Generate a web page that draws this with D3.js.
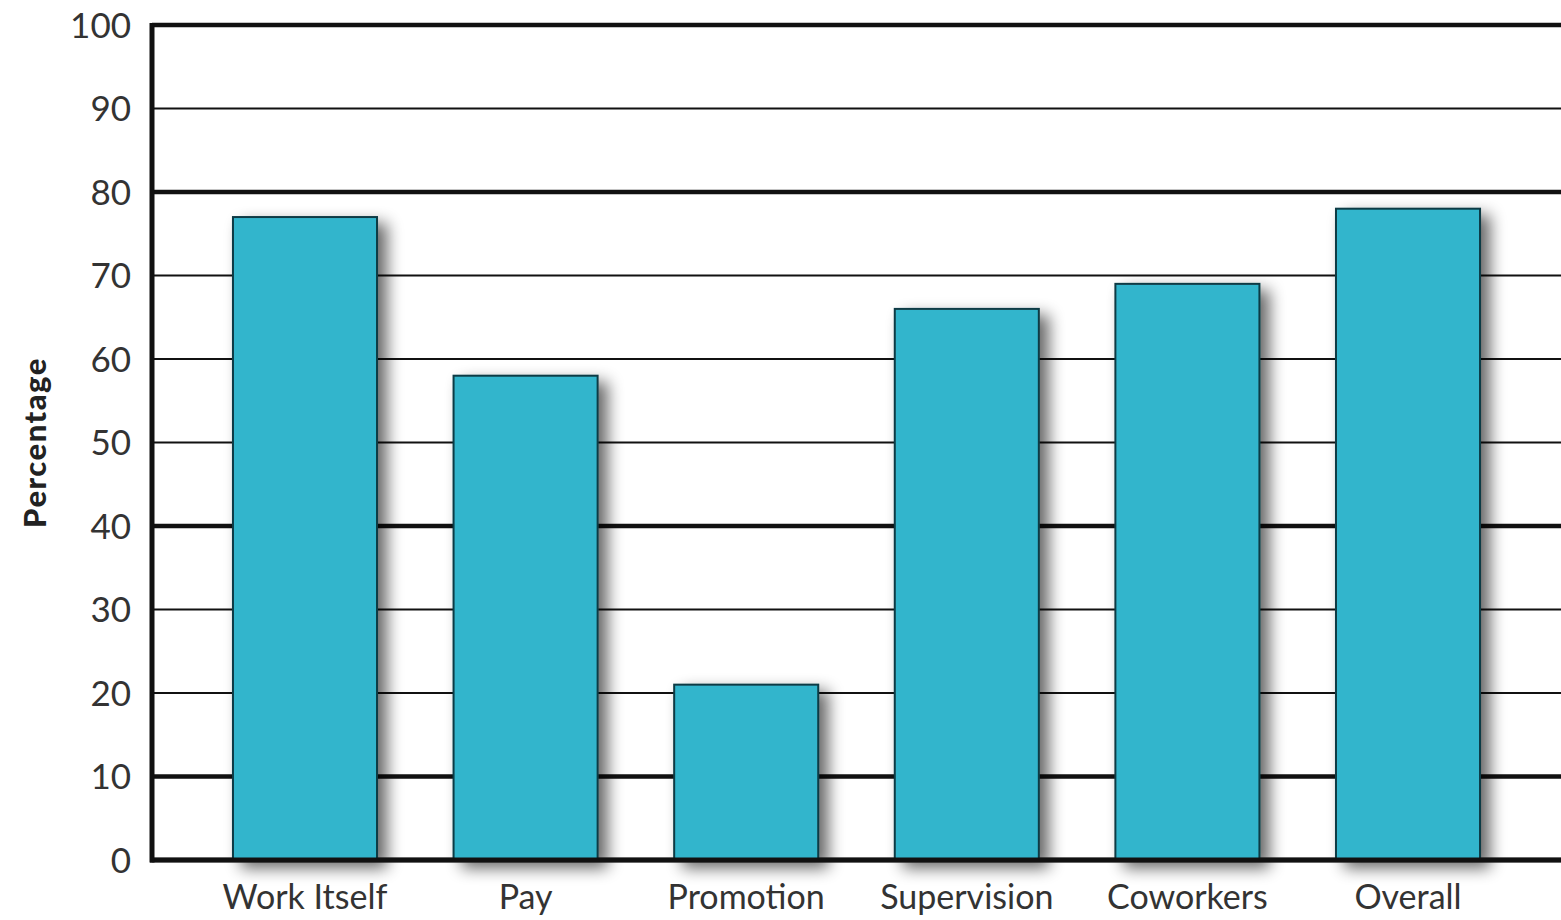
<!DOCTYPE html>
<html>
<head>
<meta charset="utf-8">
<script src="https://cdn.jsdelivr.net/npm/d3@7"></script>
<style>
  html, body { margin: 0; padding: 0; background: #fff; }
  svg { display: block; }
</style>
</head>
<body>
<svg class="chart"></svg>
<script>
'use strict'

// categories and values
const categories = ['Work Itself', 'Pay', 'Promotion', 'Supervision', 'Coworkers', 'Overall']
const values = [77, 58, 21, 66, 69, 78]
const yTicks = [0, 10, 20, 30, 40, 50, 60, 70, 80, 90, 100]
const thickTicks = [0, 10, 40, 80, 100]

const size = { width: 1561, height: 920 }
const margin = { top: 25, right: 0, bottom: 60, left: 152 }

const svg = d3.select('.chart')
  .attr('width', size.width)
  .attr('height', size.height)

// drop shadow for the bars
const defs = svg.append('defs')
const filter = defs.append('filter')
  .attr('id', 'shadow')
  .attr('x', '-20%').attr('y', '-20%')
  .attr('width', '160%').attr('height', '160%')
filter.append('feGaussianBlur').attr('in', 'SourceAlpha').attr('stdDeviation', 8).attr('result', 'blur')
filter.append('feOffset').attr('in', 'blur').attr('dx', 9).attr('dy', 7).attr('result', 'off')
filter.append('feComponentTransfer').attr('in', 'off').attr('result', 'soft')
  .append('feFuncA').attr('type', 'linear').attr('slope', 0.6)
const merge = filter.append('feMerge')
merge.append('feMergeNode').attr('in', 'soft')
merge.append('feMergeNode').attr('in', 'SourceGraphic')

const x = d3.scaleBand()
  .domain(categories)
  .range([margin.left, size.width - margin.right])
  .paddingInner(0.347)
  .paddingOuter(0.367)

const y = d3.scaleLinear()
  .domain([0, 100])
  .range([size.height - margin.bottom, margin.top])

// grid lines
svg.append('g').attr('class', 'grid')
  .selectAll('line')
  .data(yTicks)
  .enter()
  .append('line')
  .attr('x1', margin.left)
  .attr('x2', size.width)
  .attr('y1', d => y(d))
  .attr('y2', d => y(d))
  .attr('stroke', '#111')
  .attr('stroke-width', d => thickTicks.includes(d) ? 4.5 : 2)

// bars
svg.append('g').attr('class', 'bars')
  .selectAll('rect')
  .data(values)
  .enter()
  .append('rect')
  .attr('x', (d, i) => x(categories[i]))
  .attr('y', d => y(d))
  .attr('width', x.bandwidth())
  .attr('height', d => y(0) - y(d))
  .attr('fill', '#33b5cc')
  .attr('stroke', '#0f3a44')
  .attr('stroke-width', 2)
  .attr('filter', 'url(#shadow)')

// baseline drawn on top of bars
svg.append('line')
  .attr('x1', margin.left - 2)
  .attr('x2', size.width)
  .attr('y1', y(0))
  .attr('y2', y(0))
  .attr('stroke', '#111')
  .attr('stroke-width', 5)

// left axis line
svg.append('line')
  .attr('x1', margin.left)
  .attr('x2', margin.left)
  .attr('y1', y(100) - 2)
  .attr('y2', y(0) + 2.5)
  .attr('stroke', '#111')
  .attr('stroke-width', 5)

const font = 'Lato, "Noto Sans", sans-serif'

// y tick labels
svg.append('g').attr('class', 'ylabels')
  .selectAll('text')
  .data(yTicks)
  .enter()
  .append('text')
  .attr('x', 131)
  .attr('y', d => y(d))
  .attr('dy', '0.36em')
  .attr('text-anchor', 'end')
  .attr('font-family', font)
  .attr('font-size', 35)
  .attr('fill', '#333')
  .text(d => d)

// x category labels
svg.append('g').attr('class', 'xlabels')
  .selectAll('text')
  .data(categories)
  .enter()
  .append('text')
  .attr('x', d => x(d) + x.bandwidth() / 2)
  .attr('y', 909)
  .attr('text-anchor', 'middle')
  .attr('font-family', font)
  .attr('font-size', 34)
  .attr('fill', '#333')
  .text(d => d)

// axis title
svg.append('text')
  .attr('transform', 'translate(46,' + y(50) + ') rotate(-90)')
  .attr('text-anchor', 'middle')
  .attr('font-family', font)
  .attr('font-weight', 900)
  .attr('font-size', 31)
  .attr('letter-spacing', 1.5)
  .attr('fill', '#222')
  .text('Percentage')
</script>
</body>
</html>
